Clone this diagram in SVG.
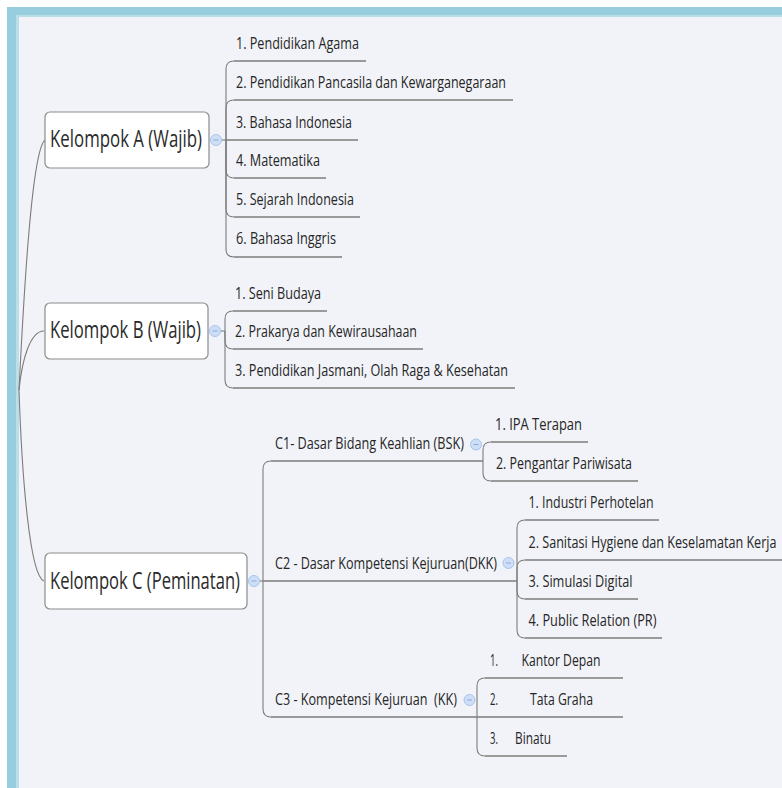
<svg xmlns="http://www.w3.org/2000/svg" width="782" height="788" viewBox="0 0 782 788">
<style>
.t{font-family:"Open Sans","Liberation Sans",sans-serif;font-size:17px;fill:#262626}
.n{font-family:"Open Sans","Liberation Sans",sans-serif;font-size:24px;fill:#2a2a2a}
.c{fill:none;stroke:#7c7c7c;stroke-width:1.1}
.u{fill:none;stroke:#7c7c7c;stroke-width:1.4}
.box{fill:#ffffff;stroke:#8c8c8c;stroke-width:1.2}
.col{fill:#cddff7;stroke:#a9c3ec;stroke-width:1}
.mn{stroke:#8ea9d8;stroke-width:1}
</style>
<defs>
<g id="collapse"><circle class="col" cx="0" cy="0" r="5.5"/><line class="mn" x1="-2.5" y1="0" x2="2.5" y2="0"/></g>
</defs>
<rect x="0" y="0" width="782" height="788" fill="#ffffff"/>
<rect x="7" y="7" width="775" height="781" fill="#97cddc"/>
<rect x="16" y="15" width="766" height="773" fill="#b9dfe9"/>
<rect x="19" y="17" width="763" height="771" fill="#f1f3f8"/>

<g id="connectors">
<path class="c" d="M19,390 C24,290 32,150 45,140"/>
<path class="c" d="M19,390 C22,360 30,331 44,331"/>
<path class="c" d="M19,390 C22,480 30,576 44,581"/>
<path class="c" d="M221,140 H226"/>
<path class="c" d="M226,140 V69 Q226,61 234,61"/>
<path class="c" d="M226,140 V108 Q226,100 234,100"/>
<path class="c" d="M226,140 V170 Q226,178 234,178"/>
<path class="c" d="M226,140 V209 Q226,217 234,217"/>
<path class="c" d="M226,140 V249 Q226,257 234,257"/>
<path class="c" d="M220,331 H225"/>
<path class="c" d="M225,331 V319 Q225,311 233,311"/>
<path class="c" d="M225,331 V341 Q225,349 233,349"/>
<path class="c" d="M225,331 V380 Q225,388 233,388"/>
<path class="c" d="M259,581 H263"/>
<path class="c" d="M263,581 V469 Q263,461 271,461"/>
<path class="c" d="M263,581 V709 Q263,717 271,717"/>
<path class="c" d="M483,461 V450 Q483,442 491,442"/>
<path class="c" d="M483,461 V473 Q483,481 491,481"/>
<path class="c" d="M517,581 V528 Q517,520 525,520"/>
<path class="c" d="M517,581 V568 Q517,560 525,560"/>
<path class="c" d="M517,581 V591 Q517,599 525,599"/>
<path class="c" d="M517,581 V630 Q517,638 525,638"/>
<path class="c" d="M477,717 V686 Q477,678 485,678"/>
<path class="c" d="M477,717 V748 Q477,756 485,756"/>
</g>

<g id="kelompok-a">
<rect class="box" x="45" y="112" width="164" height="56" rx="5"/>
<text class="n" transform="scale(0.72,1)" x="69.44" y="147.5" textLength="211.11" lengthAdjust="spacingAndGlyphs">Kelompok A (Wajib)</text>
<use href="#collapse" x="216" y="140"/>
</g>
<g id="a1"><line class="u" x1="234" y1="61" x2="366" y2="61"/><text class="t" transform="scale(0.72,1)" x="327.78" y="49" textLength="170.83" lengthAdjust="spacingAndGlyphs">1. Pendidikan Agama</text></g>
<g id="a2"><line class="u" x1="234" y1="100" x2="513" y2="100"/><text class="t" transform="scale(0.72,1)" x="327.78" y="88" textLength="375" lengthAdjust="spacingAndGlyphs">2. Pendidikan Pancasila dan Kewarganegaraan</text></g>
<g id="a3"><line class="u" x1="226" y1="140" x2="358" y2="140"/><text class="t" transform="scale(0.72,1)" x="327.78" y="128" textLength="161.11" lengthAdjust="spacingAndGlyphs">3. Bahasa Indonesia</text></g>
<g id="a4"><line class="u" x1="234" y1="178" x2="326" y2="178"/><text class="t" transform="scale(0.72,1)" x="327.78" y="166.5" textLength="116.67" lengthAdjust="spacingAndGlyphs">4. Matematika</text></g>
<g id="a5"><line class="u" x1="234" y1="217" x2="360" y2="217"/><text class="t" transform="scale(0.72,1)" x="327.78" y="205" textLength="163.89" lengthAdjust="spacingAndGlyphs">5. Sejarah Indonesia</text></g>
<g id="a6"><line class="u" x1="234" y1="257" x2="342" y2="257"/><text class="t" transform="scale(0.72,1)" x="327.78" y="244.5" textLength="138.89" lengthAdjust="spacingAndGlyphs">6. Bahasa Inggris</text></g>

<g id="kelompok-b">
<rect class="box" x="45" y="303" width="163" height="56" rx="5"/>
<text class="n" transform="scale(0.72,1)" x="69.44" y="338" textLength="209.72" lengthAdjust="spacingAndGlyphs">Kelompok B (Wajib)</text>
<use href="#collapse" x="215" y="331"/>
</g>
<g id="b1"><line class="u" x1="233" y1="311" x2="327" y2="311"/><text class="t" transform="scale(0.72,1)" x="326.39" y="299" textLength="119.44" lengthAdjust="spacingAndGlyphs">1. Seni Budaya</text></g>
<g id="b2"><line class="u" x1="233" y1="349" x2="423" y2="349"/><text class="t" transform="scale(0.72,1)" x="326.39" y="337" textLength="252.78" lengthAdjust="spacingAndGlyphs">2. Prakarya dan Kewirausahaan</text></g>
<g id="b3"><line class="u" x1="233" y1="388" x2="515" y2="388"/><text class="t" transform="scale(0.72,1)" x="326.39" y="376" textLength="379.17" lengthAdjust="spacingAndGlyphs">3. Pendidikan Jasmani, Olah Raga &amp; Kesehatan</text></g>

<g id="kelompok-c">
<rect class="box" x="45" y="553" width="202" height="56" rx="5"/>
<text class="n" transform="scale(0.72,1)" x="69.44" y="589" textLength="263.89" lengthAdjust="spacingAndGlyphs">Kelompok C (Peminatan)</text>
<use href="#collapse" x="254" y="581"/>
</g>

<g id="c1">
<line class="u" x1="271" y1="461" x2="483" y2="461"/>
<text class="t" transform="scale(0.72,1)" x="381.94" y="449.5" textLength="262.5" lengthAdjust="spacingAndGlyphs">C1- Dasar Bidang Keahlian (BSK)</text>
<use href="#collapse" x="476" y="444.5"/>
</g>
<g id="c1-1"><line class="u" x1="491" y1="442" x2="588" y2="442"/><text class="t" transform="scale(0.72,1)" x="687.5" y="430.5" textLength="120.83" lengthAdjust="spacingAndGlyphs">1. IPA Terapan</text></g>
<g id="c1-2"><line class="u" x1="491" y1="481" x2="638" y2="481"/><text class="t" transform="scale(0.72,1)" x="688.89" y="469" textLength="188.89" lengthAdjust="spacingAndGlyphs">2. Pengantar Pariwisata</text></g>

<g id="c2">
<line class="u" x1="263" y1="581" x2="517" y2="581"/>
<text class="t" transform="scale(0.72,1)" x="381.94" y="569" textLength="308.33" lengthAdjust="spacingAndGlyphs">C2 - Dasar Kompetensi Kejuruan(DKK)</text>
<use href="#collapse" x="508.5" y="563"/>
</g>
<g id="c2-1"><line class="u" x1="525" y1="520" x2="659" y2="520"/><text class="t" transform="scale(0.72,1)" x="734.03" y="508.5" textLength="173.61" lengthAdjust="spacingAndGlyphs">1. Industri Perhotelan</text></g>
<g id="c2-2"><line class="u" x1="525" y1="560" x2="782" y2="560"/><text class="t" transform="scale(0.72,1)" x="734.03" y="548.5" textLength="344.44" lengthAdjust="spacingAndGlyphs">2. Sanitasi Hygiene dan Keselamatan Kerja</text></g>
<g id="c2-3"><line class="u" x1="525" y1="599" x2="638" y2="599"/><text class="t" transform="scale(0.72,1)" x="734.03" y="587.5" textLength="144.44" lengthAdjust="spacingAndGlyphs">3. Simulasi Digital</text></g>
<g id="c2-4"><line class="u" x1="525" y1="638" x2="662" y2="638"/><text class="t" transform="scale(0.72,1)" x="734.03" y="626.5" textLength="177.78" lengthAdjust="spacingAndGlyphs">4. Public Relation (PR)</text></g>

<g id="c3">
<line class="u" x1="271" y1="717" x2="477" y2="717"/>
<text class="t" transform="scale(0.72,1)" x="381.94" y="705" textLength="252.78" lengthAdjust="spacingAndGlyphs" style="white-space:pre">C3 - Kompetensi Kejuruan  (KK)</text>
<use href="#collapse" x="469.5" y="700"/>
</g>
<g id="c3-1"><line class="u" x1="485" y1="678" x2="623" y2="678"/><text class="t" transform="scale(0.72,1)" x="680.56" y="666.5" textLength="11.11" lengthAdjust="spacingAndGlyphs">1.</text><text class="t" transform="scale(0.72,1)" x="724.31" y="666.5" textLength="109.72" lengthAdjust="spacingAndGlyphs">Kantor Depan</text></g>
<g id="c3-2"><line class="u" x1="477" y1="717" x2="623" y2="717"/><text class="t" transform="scale(0.72,1)" x="680.56" y="705" textLength="11.11" lengthAdjust="spacingAndGlyphs">2.</text><text class="t" transform="scale(0.72,1)" x="736.11" y="705" textLength="87.5" lengthAdjust="spacingAndGlyphs">Tata Graha</text></g>
<g id="c3-3"><line class="u" x1="485" y1="756" x2="567" y2="756"/><text class="t" transform="scale(0.72,1)" x="680.56" y="744.5" textLength="11.11" lengthAdjust="spacingAndGlyphs">3.</text><text class="t" transform="scale(0.72,1)" x="715.28" y="744.5" textLength="50" lengthAdjust="spacingAndGlyphs">Binatu</text></g>
</svg>
